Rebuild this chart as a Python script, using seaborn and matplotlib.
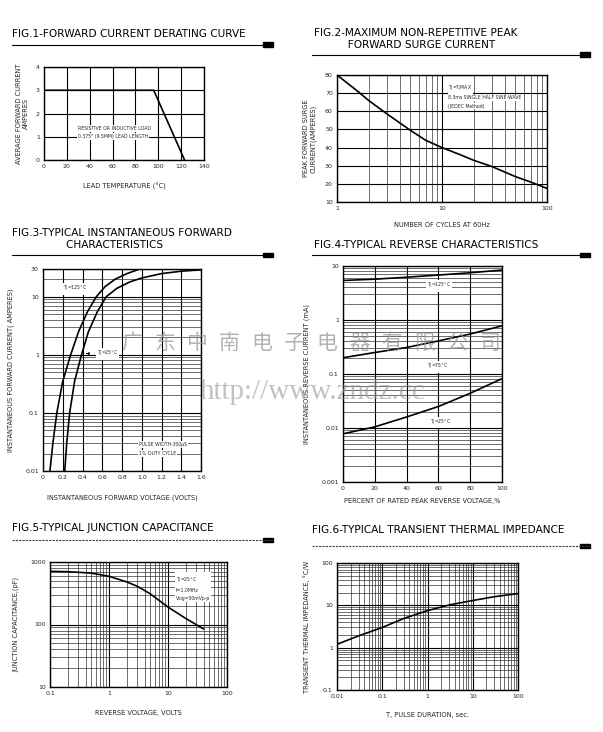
import matplotlib
matplotlib.use("Agg")
import matplotlib.pyplot as plt
import matplotlib.ticker as mticker
from matplotlib.patches import Rectangle
from matplotlib.lines import Line2D
import pandas as pd
import seaborn as sns

sns.set_style("white")
plt.rcParams['font.family'] = ['DejaVu Sans']

# Fig.1 forward current derating
lead_temp = [0, 96, 123]
avg_current = [3, 3, 0]

# Fig.2 surge current
cycles = [1, 1.5, 2, 3, 5, 7, 10, 15, 20, 30, 50, 70, 100]
surge_current = [80, 72, 66, 58.5, 49.5, 44, 40, 36, 33, 29.5, 24, 21, 17.5]

# Fig.3 forward characteristics
vf_125 = [0.07, 0.10, 0.14, 0.20, 0.28, 0.36, 0.45, 0.54, 0.63, 0.73, 0.85, 0.98]
if_125 = [0.01, 0.03, 0.1, 0.35, 1, 2.5, 5.5, 10, 15, 20, 25, 30]
vf_25 = [0.22, 0.24, 0.27, 0.32, 0.39, 0.46, 0.55, 0.64, 0.75, 0.88, 1.0, 1.2, 1.4, 1.6]
if_25 = [0.01, 0.03, 0.1, 0.35, 1, 2.5, 5.5, 10, 14, 18, 21, 25, 27.5, 29]

# Fig.4 reverse characteristics
pct_vr = [0, 20, 40, 60, 80, 100]
ir_125 = [5.4, 5.7, 6.2, 6.8, 7.5, 8.4]
ir_75 = [0.2, 0.25, 0.31, 0.41, 0.55, 0.78]
ir_25 = [0.0078, 0.0105, 0.016, 0.025, 0.044, 0.082]

# Fig.5 junction capacitance
vr = [0.1, 0.2, 0.5, 1, 2, 3, 5, 10, 20, 40]
cj = [710, 700, 665, 590, 480, 410, 310, 190, 125, 85]

# Fig.6 transient thermal impedance
pulse_t = [0.01, 0.03, 0.1, 0.3, 1, 3, 10, 30, 100]
zth = [1.2, 1.9, 3.0, 4.9, 7.5, 10.2, 13, 16, 19]

titles = ["FIG.1-FORWARD CURRENT DERATING CURVE",
          "FIG.2-MAXIMUM NON-REPETITIVE PEAK\n          FORWARD SURGE CURRENT",
          "FIG.3-TYPICAL INSTANTANEOUS FORWARD\n                CHARACTERISTICS",
          "FIG.4-TYPICAL REVERSE CHARACTERISTICS",
          "FIG.5-TYPICAL JUNCTION CAPACITANCE",
          "FIG.6-TYPICAL TRANSIENT THERMAL IMPEDANCE"]

watermark_cn = list("广东中南电子电器有限公司")
watermark_url = "http://www.zndz.cc"

W, H = 603, 732
fig = plt.figure(figsize=(W / 100, H / 100), dpi=100)
fig.patch.set_facecolor("white")


def add_ax(l, t, r, b):
    return fig.add_axes([l / W, 1 - b / H, (r - l) / W, (b - t) / H])


def style(ax, logx=False, logy=False):
    if logx:
        ax.set_xscale("log")
    if logy:
        ax.set_yscale("log")
    ax.tick_params(which="both", length=0, labelsize=4.5, pad=3)
    ax.xaxis.set_minor_formatter(mticker.NullFormatter())
    ax.yaxis.set_minor_formatter(mticker.NullFormatter())
    ax.grid(which="major", color="black", lw=0.8)
    if logx or logy:
        ax.grid(which="minor", color="0.2", lw=0.5)
    for s in ax.spines.values():
        s.set_color("black")
        s.set_linewidth(1.0)
    ax.set_axisbelow(True)


def header(x, y, text, x0, x1, yline, dashed=False):
    fig.text(x / W, 1 - y / H, text, fontsize=7.6, ha="left", va="center",
             linespacing=1.15, color="black")
    fig.add_artist(Line2D([x0 / W, x1 / W], [1 - yline / H] * 2, color="0.25" if dashed else "black",
                          lw=0.8, ls=(0, (2, 1)) if dashed else "-"))
    fig.add_artist(Rectangle(((x1 - 10) / W, 1 - (yline + 1.5) / H), 10 / W, 4 / H,
                             color="black", transform=fig.transFigure))


lab = dict(fontsize=4.8)
box = dict(fc="white", ec="none", pad=0.6)
anno = dict(fontsize=3.3, bbox=box)

# ---------- Fig.1 ----------
header(12, 34, titles[0], 12, 273, 45)
ax1 = add_ax(44, 67, 204, 160)
style(ax1)
sns.lineplot(x=lead_temp, y=avg_current, ax=ax1, color="black", lw=1.2)
ax1.set_xlim(0, 140)
ax1.set_ylim(0, 4)
ax1.set_xticks(range(0, 141, 20))
ax1.set_yticks(range(0, 5))
ax1.set_xlabel("LEAD TEMPERATURE (°C)", labelpad=10, **lab)
ax1.set_ylabel("AVERAGE FORWARD CURRENT\nAMPERES", labelpad=5, **lab)
ax1.text(30, 1.3, "RESISTIVE OR INDUCTIVE LOAD", **anno)
ax1.text(30, 0.95, "0.375\" (9.5MM) LEAD LENGTH", **anno)

# ---------- Fig.2 ----------
header(314, 39, titles[1], 312, 590, 55)
ax2 = add_ax(337, 75, 547, 202)
style(ax2, logx=True)
sns.lineplot(x=cycles, y=surge_current, ax=ax2, color="black", lw=1.2)
ax2.set_xlim(1, 100)
ax2.set_ylim(10, 80)
ax2.set_xticks([1, 10, 100])
ax2.set_xticklabels(["1", "10", "100"])
ax2.set_yticks(range(10, 81, 10))
ax2.set_xlabel("NUMBER OF CYCLES AT 60Hz", labelpad=8, **lab)
ax2.set_ylabel("PEAK FORWARD SURGE\nCURRENT(AMPERES)", labelpad=6, **lab)
ax2.text(11.5, 71.5, "T$_J$=T$_J$MAX", **anno)
ax2.text(11.5, 66.5, "8.3ms SINGLE HALF SINE-WAVE", **anno)
ax2.text(11.5, 62, "(JEDEC Method)", **anno)

# ---------- Fig.3 ----------
header(12, 239, titles[2], 12, 273, 255)
ax3 = add_ax(43, 269, 201, 471)
style(ax3, logy=True)
sns.lineplot(x=vf_125, y=if_125, ax=ax3, color="black", lw=1.2)
sns.lineplot(x=vf_25, y=if_25, ax=ax3, color="black", lw=1.2)
ax3.set_xlim(0, 1.6)
ax3.set_ylim(0.01, 30)
ax3.set_xticks([i * 0.2 for i in range(9)])
ax3.set_xticklabels(["0", "0.2", "0.4", "0.6", "0.8", "1.0", "1.2", "1.4", "1.6"])
ax3.set_yticks([0.01, 0.1, 1, 10, 30])
ax3.set_yticklabels(["0.01", "0.1", "1", "10", "30"])
ax3.set_xlabel("INSTANTANEOUS FORWARD VOLTAGE (VOLTS)", labelpad=10, **lab)
ax3.set_ylabel("INSTANTANEOUS FORWARD CURRENT( AMPERES)", labelpad=8, **lab)
ax3.text(0.2, 13, "T$_J$=125°C", **anno)
ax3.text(0.55, 1.0, "T$_J$=25°C", **anno)
ax3.annotate("", xy=(0.41, 1.05), xytext=(0.47, 1.05),
             arrowprops=dict(arrowstyle="-|>", color="black", lw=0.5, mutation_scale=4))
ax3.text(0.97, 0.027, "PULSE WIDTH-300μS", **anno)
ax3.text(0.97, 0.019, "1% DUTY CYCLE", **anno)

# ---------- Fig.4 ----------
header(314, 245, titles[3], 312, 590, 255)
ax4 = add_ax(343, 266, 502, 482)
style(ax4, logy=True)
for ys in [ir_125, ir_75, ir_25]:
    sns.lineplot(x=pct_vr, y=ys, ax=ax4, color="black", lw=1.2)
ax4.set_xlim(0, 100)
ax4.set_ylim(0.001, 10)
ax4.set_xticks(range(0, 101, 20))
ax4.set_yticks([0.001, 0.01, 0.1, 1, 10])
ax4.set_yticklabels(["0.001", "0.01", "0.1", "1", "10"])
ax4.set_xlabel("PERCENT OF RATED PEAK REVERSE VOLTAGE,%", labelpad=5, **lab)
ax4.set_ylabel("INSTANTANEOUS REVERSE CURRENT (mA)", labelpad=8, **lab)
ax4.text(53, 4.0, "T$_J$=125°C", **anno)
ax4.text(53, 0.13, "T$_J$=75°C", **anno)
ax4.text(55, 0.012, "T$_J$=25°C", **anno)

# ---------- Fig.5 ----------
header(12, 528, titles[4], 12, 273, 540, dashed=True)
ax5 = add_ax(50, 562, 227, 687)
style(ax5, logx=True, logy=True)
sns.lineplot(x=vr, y=cj, ax=ax5, color="black", lw=1.2)
ax5.set_xlim(0.1, 100)
ax5.set_ylim(10, 1000)
ax5.set_xticks([0.1, 1, 10, 100])
ax5.set_xticklabels(["0.1", "1", "10", "100"])
ax5.set_yticks([10, 100, 1000])
ax5.set_yticklabels(["10", "100", "1000"])
ax5.set_xlabel("REVERSE VOLTAGE, VOLTS", labelpad=10, **lab)
ax5.set_ylabel("JUNCTION CAPACITANCE,(pF)", labelpad=8, **lab)
ax5.text(13.5, 600, "T$_J$=25°C\nf=1.0MHz\nVsig=50mVp-p", va="top", linespacing=1.6, **anno)

# ---------- Fig.6 ----------
header(312, 530, titles[5], 312, 590, 546, dashed=True)
ax6 = add_ax(337, 563, 518, 690)
style(ax6, logx=True, logy=True)
sns.lineplot(x=pulse_t, y=zth, ax=ax6, color="black", lw=1.2)
ax6.set_xlim(0.01, 100)
ax6.set_ylim(0.1, 100)
ax6.set_xticks([0.01, 0.1, 1, 10, 100])
ax6.set_xticklabels(["0.01", "0.1", "1", "10", "100"])
ax6.set_yticks([0.1, 1, 10, 100])
ax6.set_yticklabels(["0.1", "1", "10", "100"])
ax6.set_xlabel("T, PULSE DURATION, sec.", labelpad=9, **lab)
ax6.set_ylabel("TRANSIENT THERMAL IMPEDANCE, °C/W", labelpad=8, **lab)

# ---------- watermark ----------
for i, ch in enumerate(watermark_cn):
    fig.text((132 + i * 32.5) / W, 1 - 343 / H, ch, fontsize=15, color="0.6", alpha=0.75,
             ha="center", va="center", family=["Noto Sans CJK SC"], style="italic")
fig.text(313 / W, 1 - 392 / H, watermark_url, fontsize=21, color="0.6", alpha=0.6,
         ha="center", va="center", family=["Liberation Serif"])

fig.savefig("out.png", dpi=100, facecolor="white")
